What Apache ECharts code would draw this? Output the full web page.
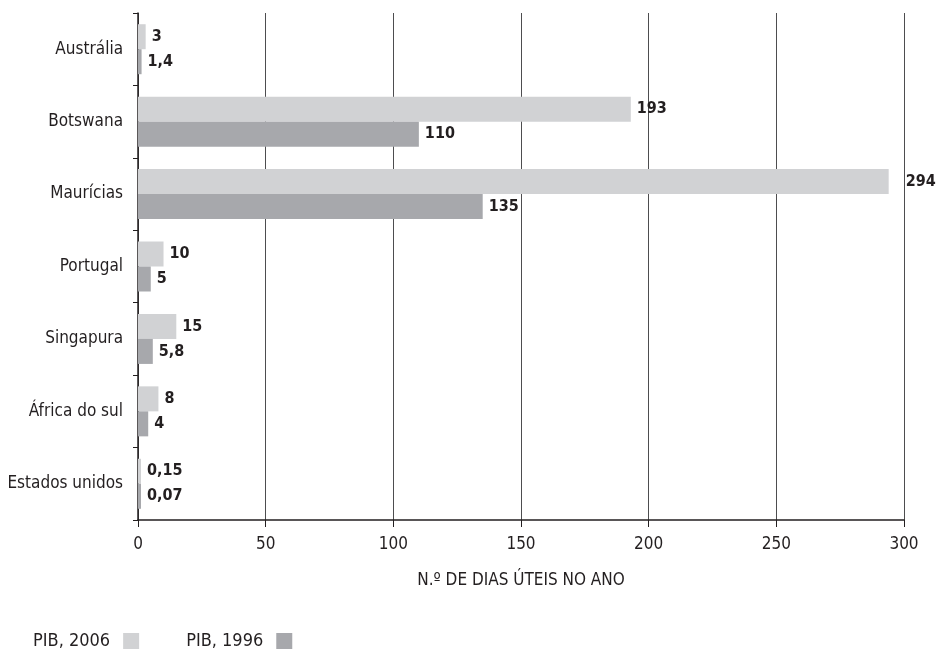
<!DOCTYPE html>
<html>
<head>
<meta charset="utf-8">
<script src="https://cdn.jsdelivr.net/npm/echarts@6/dist/echarts.min.js"></script>
<style>
  html, body { margin: 0; padding: 0; background: #fff; }
  #chart { width: 937px; height: 651px; }
</style>
</head>
<body>
<div id="chart"></div>
<script>
// Countries, top to bottom
const countries = ['Austrália', 'Botswana', 'Maurícias', 'Portugal', 'Singapura', 'África do sul', 'Estados unidos'];
// Working days per year
const pib2006 = [3, 193, 294, 10, 15, 8, 0.15];
const pib1996 = [1.4, 110, 135, 5, 5.8, 4, 0.07];
const xTicks = [0, 50, 100, 150, 200, 250, 300];
const seriesNames = ['PIB, 2006', 'PIB, 1996'];
const axisTitle = 'N.º DE DIAS ÚTEIS NO ANO';

const FONT = '"DejaVu Sans Condensed", "Liberation Sans Narrow", "Noto Sans", sans-serif';
const INK = '#231f20';
const fmt = v => String(v).replace('.', ',');

const chart = echarts.init(document.getElementById('chart'));

const labelCfg = {
  show: true,
  position: 'right',
  distance: 6,
  color: INK,
  fontFamily: FONT,
  fontWeight: 'bold',
  fontSize: 16,
  formatter: p => fmt(p.value)
};

// a label that would sit on the last gridline is pushed just past it
const xMax = xTicks[xTicks.length - 1];
const toItems = arr => arr.map(v => (v > xMax * 0.95
  ? { value: v, label: { distance: 17 } }
  : v));

chart.setOption({
  animation: false,
  textStyle: { fontFamily: FONT },
  grid: { left: 138, right: 33, top: 13, bottom: 131, containLabel: false },
  legend: {
    left: 33,
    bottom: 1,
    padding: 0,
    align: 'right',
    icon: 'rect',
    itemWidth: 16,
    itemHeight: 16,
    itemGap: 47,
    textStyle: { color: INK, fontSize: 18, fontFamily: FONT, padding: [0, 8, 0, 0] },
    data: seriesNames
  },
  xAxis: {
    type: 'value',
    min: xTicks[0],
    max: xMax,
    interval: xTicks[1] - xTicks[0],
    name: axisTitle,
    nameLocation: 'middle',
    nameGap: 52,
    nameTextStyle: { color: INK, fontSize: 17, fontFamily: FONT },
    axisLine: { show: true, lineStyle: { color: INK, width: 1.5 } },
    axisTick: { show: true, length: 7, lineStyle: { color: INK } },
    axisLabel: { color: INK, fontSize: 17, margin: 16, fontFamily: FONT },
    splitLine: { show: true, lineStyle: { color: '#4d4d4f', width: 1 } }
  },
  yAxis: {
    type: 'category',
    data: countries,
    inverse: true,
    axisLine: { show: true, lineStyle: { color: INK, width: 1.5 } },
    axisTick: { show: true, length: 5, lineStyle: { color: INK } },
    axisLabel: { color: INK, fontSize: 17, margin: 15, fontFamily: FONT },
    splitLine: { show: false }
  },
  series: [
    {
      name: seriesNames[0],
      type: 'bar',
      data: toItems(pib2006),
      barWidth: 25,
      barGap: '0%',
      barMinHeight: 3,
      itemStyle: { color: '#d1d2d4' },
      label: labelCfg
    },
    {
      name: seriesNames[1],
      type: 'bar',
      data: toItems(pib1996),
      barWidth: 25,
      barGap: '0%',
      barMinHeight: 3,
      itemStyle: { color: '#a7a8ac' },
      label: labelCfg
    }
  ]
});
</script>
</body>
</html>
